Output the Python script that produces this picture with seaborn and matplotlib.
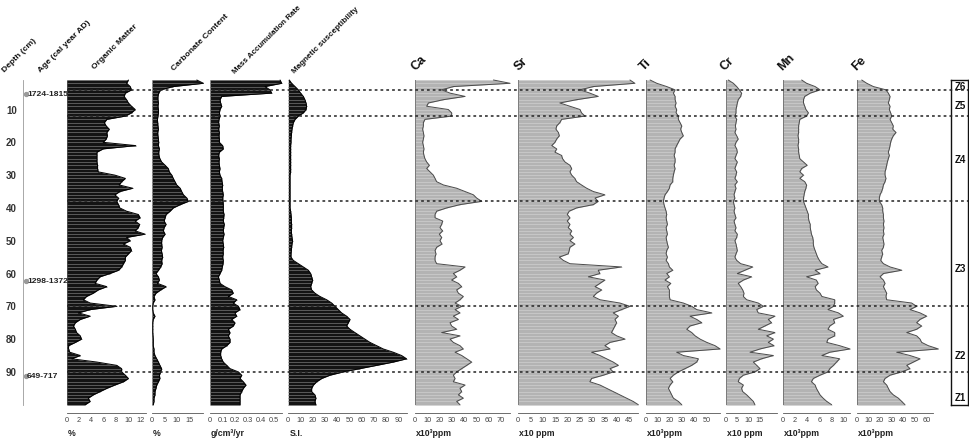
import numpy as np
import matplotlib
matplotlib.use("Agg")
import matplotlib.pyplot as plt
from matplotlib.ticker import FixedLocator, MultipleLocator
import seaborn as sns

sns.set_style("white")
plt.rcParams['font.family'] = ['Liberation Sans', 'DejaVu Sans']

# ---------------- data ----------------
depth = np.arange(1, 101)  # sample depths (cm)

organic_matter = [10.0, 9.7, 10.3, 10.5, 9.5, 9.3, 9.7, 10.0, 10.5, 11.1,
                  10.5, 9.5, 6.5, 6.1, 6.4, 6.9, 6.5, 6.6, 6.4, 5.9,
                  11.2, 5.9, 4.9, 4.9, 4.9, 4.9, 5.0, 5.0, 5.1, 7.8,
                  9.5, 8.9, 8.5, 10.7, 8.6, 7.8, 8.4, 8.1, 8.4, 8.6,
                  9.7, 11.6, 11.9, 11.1, 11.8, 11.6, 11.1, 12.7, 9.7, 10.3,
                  9.2, 10.3, 10.5, 10.0, 9.5, 9.5, 9.2, 8.9, 8.4, 7.0,
                  5.4, 4.9, 4.6, 6.5, 5.1, 4.3, 3.2, 2.7, 3.8, 8.1,
                  3.8, 1.9, 3.8, 2.2, 1.4, 1.1, 1.4, 1.6, 2.2, 2.4,
                  1.4, 0.3, 0.3, 0.5, 2.2, 0.8, 4.9, 8.1, 8.9, 8.9,
                  9.5, 10.0, 9.2, 7.8, 6.5, 5.4, 4.3, 3.5, 3.8, 3.0]

carbonate = [18.1, 20.8, 8.6, 3.5, 2.7, 2.4, 2.4, 2.6, 2.4, 2.6,
             2.6, 2.4, 2.2, 2.3, 2.4, 2.6, 2.3, 2.4, 2.6, 2.7,
             2.6, 3.0, 2.7, 2.8, 3.2, 3.9, 5.3, 6.6, 7.0, 8.0,
             8.6, 9.3, 10.0, 11.4, 12.0, 12.7, 14.1, 14.7, 11.4, 8.6,
             7.3, 5.7, 5.3, 4.9, 5.7, 4.9, 4.6, 5.3, 4.3, 3.9,
             3.9, 4.1, 3.8, 4.1, 4.3, 3.9, 4.1, 3.5, 2.6, 1.6,
             2.6, 3.0, 2.2, 5.7, 3.5, 1.6, 0.8, 1.2, 0.5, 0.3,
             0.3, 0.5, 1.2, 0.5, 0.3, 0.3, 0.3, 0.3, 0.4, 0.5,
             0.5, 0.5, 0.8, 0.8, 1.2, 1.9, 2.6, 3.2, 3.9, 3.5,
             3.0, 3.2, 2.6, 1.9, 1.6, 1.2, 1.2, 0.8, 0.8, 0.5]

mass_acc_rate = [0.553, 0.566, 0.434, 0.474, 0.487, 0.092, 0.079, 0.084, 0.092, 0.079,
                 0.074, 0.079, 0.071, 0.068, 0.074, 0.068, 0.074, 0.071, 0.074, 0.074,
                 0.100, 0.105, 0.074, 0.068, 0.074, 0.071, 0.074, 0.079, 0.074, 0.079,
                 0.092, 0.095, 0.100, 0.097, 0.100, 0.105, 0.100, 0.103, 0.105, 0.105,
                 0.105, 0.111, 0.108, 0.105, 0.113, 0.108, 0.105, 0.111, 0.105, 0.100,
                 0.105, 0.108, 0.103, 0.105, 0.100, 0.105, 0.103, 0.097, 0.092, 0.079,
                 0.066, 0.074, 0.079, 0.118, 0.171, 0.184, 0.145, 0.211, 0.184, 0.224,
                 0.237, 0.197, 0.211, 0.171, 0.197, 0.184, 0.145, 0.158, 0.145, 0.158,
                 0.158, 0.132, 0.092, 0.084, 0.084, 0.092, 0.105, 0.132, 0.158, 0.224,
                 0.250, 0.237, 0.263, 0.284, 0.263, 0.250, 0.237, 0.237, 0.237, 0.237]

mag_susc = [0.8, 2.7, 5.5, 8.2, 10.1, 12.3, 13.6, 14.5, 15.0, 14.5,
            12.3, 8.2, 5.5, 4.1, 3.5, 3.0, 2.7, 2.5, 2.2, 2.2,
            1.9, 1.9, 1.9, 1.9, 1.9, 1.9, 1.9, 1.9, 1.9, 1.4,
            1.4, 1.4, 1.4, 1.4, 1.4, 1.4, 1.4, 1.4, 1.4, 1.4,
            1.9, 2.2, 2.5, 2.5, 2.7, 2.7, 2.5, 2.7, 3.0, 3.5,
            3.0, 2.7, 2.5, 2.2, 2.2, 4.1, 8.2, 12.3, 16.4, 18.3,
            19.1, 19.9, 19.1, 18.3, 19.1, 21.8, 25.9, 31.4, 35.5, 38.2,
            40.9, 43.6, 47.7, 50.5, 49.1, 47.7, 50.5, 54.5, 58.6, 62.7,
            66.8, 72.3, 77.7, 85.9, 92.7, 96.8, 85.9, 72.3, 58.6, 45.0,
            34.1, 27.3, 23.2, 20.5, 19.1, 19.1, 21.8, 22.6, 21.8, 22.6]

ca = [63.8, 77.3, 31.2, 21.7, 28.5, 40.7, 23.1, 10.9, 9.5, 27.1,
      29.8, 29.8, 8.1, 6.8, 6.8, 6.2, 6.8, 7.3, 6.8, 6.2,
      6.8, 7.3, 6.8, 7.3, 8.1, 9.5, 11.7, 9.5, 12.2, 14.9,
      16.3, 17.6, 23.1, 33.9, 40.7, 47.5, 50.2, 54.3, 36.6, 25.8,
      17.6, 16.3, 16.3, 22.5, 21.7, 20.3, 22.5, 19.8, 21.7, 20.3,
      22.0, 17.6, 16.3, 17.1, 16.3, 16.3, 17.6, 40.7, 36.6, 31.2,
      33.9, 29.8, 35.3, 38.0, 33.9, 35.3, 39.3, 36.6, 32.6, 38.0,
      32.6, 36.6, 31.2, 35.3, 28.5, 29.8, 33.9, 21.7, 36.6, 28.5,
      31.2, 36.6, 39.3, 32.6, 38.0, 42.1, 46.1, 42.1, 38.0, 33.9,
      31.2, 32.6, 31.2, 40.7, 36.6, 38.0, 35.3, 39.3, 33.9, 36.6]

sr = [45.4, 47.4, 30.5, 25.1, 29.1, 32.5, 23.7, 16.9, 21.0, 25.1,
      25.7, 27.1, 17.6, 16.9, 15.6, 15.3, 16.3, 16.7, 15.6, 14.9,
      13.6, 15.6, 14.9, 17.6, 18.0, 19.0, 21.0, 21.7, 21.0, 21.7,
      23.0, 23.7, 25.7, 27.8, 30.5, 35.2, 31.2, 32.5, 30.5, 23.7,
      20.7, 19.9, 21.0, 19.9, 21.0, 20.3, 21.7, 21.0, 22.4, 21.0,
      23.0, 21.0, 20.7, 20.3, 16.7, 18.3, 21.0, 42.0, 32.5, 33.2,
      28.5, 35.2, 33.2, 31.2, 33.9, 31.8, 30.5, 33.2, 41.3, 45.4,
      42.0, 38.6, 40.7, 39.3, 40.0, 39.3, 38.6, 37.9, 40.0, 43.4,
      37.3, 35.2, 37.3, 29.8, 33.2, 35.9, 38.6, 40.7, 37.3, 38.6,
      34.6, 29.8, 29.1, 33.2, 35.9, 38.6, 41.3, 44.0, 46.7, 48.8]

ti = [3.6, 9.1, 17.3, 24.2, 22.8, 24.2, 24.2, 25.0, 24.2, 25.5,
      25.0, 26.9, 26.9, 28.3, 29.7, 28.8, 29.7, 31.0, 28.3, 26.9,
      25.5, 24.2, 24.2, 23.4, 24.2, 24.2, 23.4, 24.2, 23.4, 22.8,
      22.3, 22.3, 20.1, 19.5, 17.9, 15.9, 15.1, 14.6, 15.1, 15.9,
      16.8, 17.3, 16.8, 17.3, 17.9, 16.8, 17.3, 17.9, 16.8, 17.3,
      17.9, 18.7, 17.3, 16.8, 17.9, 16.8, 18.7, 19.5, 22.3, 17.3,
      19.5, 15.9, 20.6, 17.9, 19.5, 19.5, 19.5, 20.1, 31.0, 37.9,
      42.0, 54.4, 36.5, 42.0, 46.2, 36.5, 33.8, 37.9, 40.7, 44.8,
      50.3, 57.1, 61.3, 25.5, 31.0, 43.4, 42.0, 37.9, 32.4, 26.9,
      22.8, 20.1, 22.3, 20.1, 18.7, 20.1, 21.4, 22.8, 26.9, 29.7]

cr = [1.0, 3.3, 4.8, 6.0, 7.0, 6.6, 5.5, 5.1, 4.8, 4.5,
      4.5, 4.0, 4.8, 4.5, 4.2, 4.5, 4.0, 4.8, 5.5, 4.5,
      4.0, 4.8, 5.1, 4.5, 4.0, 5.1, 4.5, 4.0, 4.8, 4.5,
      4.0, 5.1, 4.0, 4.5, 4.0, 3.6, 4.0, 3.3, 3.6, 4.0,
      3.6, 4.0, 4.5, 3.6, 4.0, 4.5, 4.0, 5.1, 4.8, 4.0,
      4.5, 4.8, 5.1, 4.5, 4.0, 4.8, 6.6, 12.0, 8.5, 5.1,
      11.5, 7.8, 5.5, 6.6, 7.5, 8.1, 7.8, 9.3, 14.5, 16.8,
      13.8, 14.5, 22.0, 19.0, 20.5, 17.5, 14.5, 22.0, 18.3, 21.3,
      19.0, 21.6, 15.3, 10.8, 21.3, 16.0, 12.3, 13.8, 15.3, 13.0,
      7.8, 6.0, 5.5, 7.8, 7.0, 7.5, 9.3, 10.8, 12.3, 13.0]

mn = [3.1, 3.9, 5.3, 6.1, 4.5, 3.6, 3.4, 3.4, 3.6, 3.8,
      4.2, 3.9, 2.8, 2.7, 2.6, 2.6, 2.6, 2.5, 2.6, 2.6,
      2.5, 2.6, 2.6, 2.7, 2.8, 3.4, 4.0, 3.1, 2.8, 3.4,
      2.8, 3.6, 3.9, 3.8, 3.6, 3.5, 3.4, 3.4, 3.6, 3.8,
      4.0, 4.2, 4.2, 4.3, 4.5, 4.5, 4.6, 4.7, 4.9, 5.0,
      5.0, 5.1, 5.3, 5.5, 5.7, 6.0, 6.4, 7.4, 5.3, 6.1,
      3.9, 5.5, 5.8, 5.3, 5.5, 6.1, 6.4, 8.5, 8.5, 8.3,
      7.4, 9.1, 9.9, 8.3, 8.5, 7.7, 7.4, 8.5, 8.5, 7.4,
      7.2, 9.3, 11.0, 7.7, 6.4, 9.3, 8.8, 8.3, 7.7, 7.4,
      6.1, 5.0, 4.7, 5.3, 5.5, 5.8, 6.1, 6.6, 7.2, 8.0]

fe = [4.3, 8.6, 14.3, 25.1, 27.1, 28.6, 28.0, 27.1, 28.6, 28.0,
      29.1, 30.0, 28.6, 30.0, 31.4, 30.9, 33.7, 31.4, 30.0, 29.1,
      28.6, 28.0, 27.1, 28.0, 27.1, 26.3, 25.7, 25.1, 24.3, 24.3,
      25.1, 24.3, 22.9, 22.3, 21.4, 20.0, 19.4, 19.4, 21.4, 22.3,
      22.3, 22.9, 22.9, 23.4, 22.9, 23.4, 22.9, 23.4, 22.3, 22.9,
      23.4, 22.9, 21.4, 22.3, 21.4, 20.6, 22.9, 28.6, 38.6, 22.9,
      20.0, 22.9, 24.3, 22.9, 24.3, 25.7, 25.1, 25.7, 47.1, 51.4,
      45.7, 54.3, 60.0, 54.3, 51.4, 55.7, 51.4, 42.9, 51.4, 54.3,
      55.7, 61.4, 70.0, 34.3, 45.7, 54.3, 48.6, 42.9, 45.7, 38.6,
      28.6, 24.3, 22.9, 25.7, 27.1, 28.6, 31.4, 35.7, 38.6, 41.4]

zone_bounds = [4, 12, 38, 70, 90]
zone_names = ["Z6", "Z5", "Z4", "Z3", "Z2", "Z1"]
zone_label_depths = [3.2, 9.0, 25.5, 58.5, 85.2, 98.0]

age_labels = ["1724-1815", "1298-1372", "649-717"]
age_depths = [5.3, 62.3, 91.3]

# ---------------- layout ----------------
W, H = 970, 441
TOP_PX, BOT_PX = 80.0, 404.7
fig = plt.figure(figsize=(W / 100, H / 100), dpi=100)


def rect(x0, x1):
    return [x0 / W, 1 - BOT_PX / H, (x1 - x0) / W, (BOT_PX - TOP_PX) / H]


def fx(x):
    return x / W


def fy(y):
    return 1 - y / H


BLACK = dict(fill="#141414", stripe="#6e6e6e", edge="#000000", left=None)
GRAY = dict(fill="#b3b3b3", stripe="#cdcdcd", edge="#4a4a4a", left="#6a6a6a")

panels = [
    ("Organic Matter", organic_matter, 66.7, 145.7, 12.8, np.arange(0, 13, 2), 1, "%", BLACK),
    ("Carbonate Content", carbonate, 152.0, 202.7, 20.5, [0, 5, 10, 15], 2.5, "%", BLACK),
    ("Mass Accumulation Rate", mass_acc_rate, 210.0, 281.7, 0.566, np.round(np.arange(0, 0.51, 0.1), 1), 0.05, "g/cm³/yr", BLACK),
    ("Magnetic susceptibility", mag_susc, 288.3, 406.7, 96.9, np.arange(0, 91, 10), 5, "S.I.", BLACK),
    ("Ca", ca, 415.0, 510.0, 77.3, np.arange(0, 71, 10), 5, "x10³ppm", GRAY),
    ("Sr", sr, 518.3, 638.3, 48.8, np.arange(0, 46, 5), 2.5, "x10 ppm", GRAY),
    ("Ti", ti, 645.7, 720.0, 61.2, np.arange(0, 51, 10), 5, "x10³ppm", GRAY),
    ("Cr", cr, 726.0, 776.7, 22.8, [0, 5, 10, 15], 2.5, "x10 ppm", GRAY),
    ("Mn", mn, 782.7, 850.0, 11.0, np.arange(0, 11, 2), 1, "x10³ppm", GRAY),
    ("Fe", fe, 856.7, 933.3, 65.7, np.arange(0, 61, 10), 5, "x10³ppm", GRAY),
]

header_pos = {
    "Organic Matter": (95, 70, 6.1), "Carbonate Content": (174, 71, 6.1),
    "Mass Accumulation Rate": (235, 74, 5.7), "Magnetic susceptibility": (295, 74, 5.9),
    "Ca": (416, 71, 9), "Sr": (519, 71, 9), "Ti": (644, 71, 9),
    "Cr": (725, 71, 9), "Mn": (782, 71, 9), "Fe": (856, 71, 9),
}

for name, vals, x0, x1, xmax, majors, minor, unit, sty in panels:
    ax = fig.add_axes(rect(x0, x1))
    vals = np.asarray(vals, dtype=float)
    ax.fill_betweenx(depth, 0, vals, color=sty["fill"], lw=0, clip_on=False, zorder=1)
    ax.hlines(depth, 0, vals, colors=sty["stripe"], lw=0.55, zorder=2, clip_on=False)
    sns.lineplot(x=vals, y=depth, orient="y", sort=False, estimator=None,
                 color=sty["edge"], lw=0.7, ax=ax, zorder=3)
    for ln in ax.lines:
        ln.set_clip_on(False)
    if sty["left"]:
        ax.axvline(0, color=sty["left"], lw=1.2, zorder=4)
    ax.set_xlim(0, xmax)
    ax.set_ylim(100, 1)
    ax.set_xlabel("")
    ax.set_ylabel("")
    ax.set_yticks([])
    for s in ["top", "right", "left"]:
        ax.spines[s].set_visible(False)
    ax.spines["bottom"].set_position(("outward", 6.2))
    ax.spines["bottom"].set_color("#555555")
    ax.spines["bottom"].set_linewidth(0.6)
    ax.xaxis.set_major_locator(FixedLocator(list(majors)))
    ax.xaxis.set_minor_locator(MultipleLocator(minor))
    ax.tick_params(axis="x", which="major", direction="in", length=3.5, width=0.6,
                   color="#555555", labelsize=5.3, labelcolor="#444444", pad=2.5)
    ax.tick_params(axis="x", which="minor", direction="in", length=2, width=0.5,
                   color="#555555")
    ax.set_xticklabels([f"{m:g}" for m in majors])
    ax.patch.set_alpha(0)
    # header
    hx, hy, hs = header_pos[name]
    fig.text(fx(hx), fy(hy), name, rotation=45, rotation_mode="anchor",
             ha="left", va="baseline", fontsize=hs,
             fontweight="bold", color="#111111")
    # unit
    fig.text(fx(x0 + 1), fy(433), unit, ha="left", va="center", fontsize=6.3,
             fontweight="bold", color="#222222")

# depth ruler
axd = fig.add_axes(rect(23.5, 23.6))
axd.set_ylim(100, 1)
axd.set_xlim(0, 1)
axd.set_xticks([])
for s in ["top", "right", "bottom"]:
    axd.spines[s].set_visible(False)
axd.spines["left"].set_color("#9a9a9a")
axd.spines["left"].set_linewidth(0.6)
axd.yaxis.set_major_locator(FixedLocator(list(range(10, 91, 10))))
axd.yaxis.set_minor_locator(MultipleLocator(1))
axd.tick_params(axis="y", which="major", direction="out", length=4, width=0.6,
                color="#9a9a9a", labelsize=7, labelcolor="#333333", pad=0.8)
axd.tick_params(axis="y", which="minor", direction="out", length=3, width=0.5,
                color="#a8a8a8")
for t in axd.get_yticklabels():
    t.set_fontweight("bold")
axd.patch.set_alpha(0)

# age labels
axa = fig.add_axes(rect(24, 66))
axa.set_ylim(100, 1)
axa.set_xlim(0, 42)
axa.axis("off")
axa.scatter([1.8] * len(age_depths), age_depths, s=8, color="#9a9a9a", zorder=3)
for lab, d in zip(age_labels, age_depths):
    axa.text(3.0, d, lab, ha="left", va="center", fontsize=6.1, fontweight="bold",
             color="#222222")

# left headers
fig.text(fx(5), fy(73), "Depth (cm)", rotation=45, rotation_mode="anchor",
         ha="left", va="baseline", fontsize=6.1, fontweight="bold", color="#111111")
fig.text(fx(41), fy(73), "Age (cal year AD)", rotation=45, rotation_mode="anchor",
         ha="left", va="baseline", fontsize=6.1, fontweight="bold", color="#111111")

# zone box
axz = fig.add_axes(rect(951, 968))
axz.set_ylim(100, 1)
axz.set_xlim(0, 1)
axz.set_xticks([])
axz.set_yticks([])
for s in axz.spines.values():
    s.set_color("#111111")
    s.set_linewidth(1.0)
for name, d in zip(zone_names, zone_label_depths):
    axz.text(0.2, d, name, ha="left", va="center", fontsize=7, fontweight="bold",
             color="#111111")
axz.patch.set_alpha(0)

# zone boundary lines overlay
axo = fig.add_axes(rect(66.7, 968))
axo.set_ylim(100, 1)
axo.set_xlim(0, 1)
axo.axis("off")
for b in zone_bounds:
    axo.axhline(b, color="#222222", lw=1.1, ls=(0, (1.8, 2.0)), zorder=10)

fig.savefig("out.png", dpi=100)
